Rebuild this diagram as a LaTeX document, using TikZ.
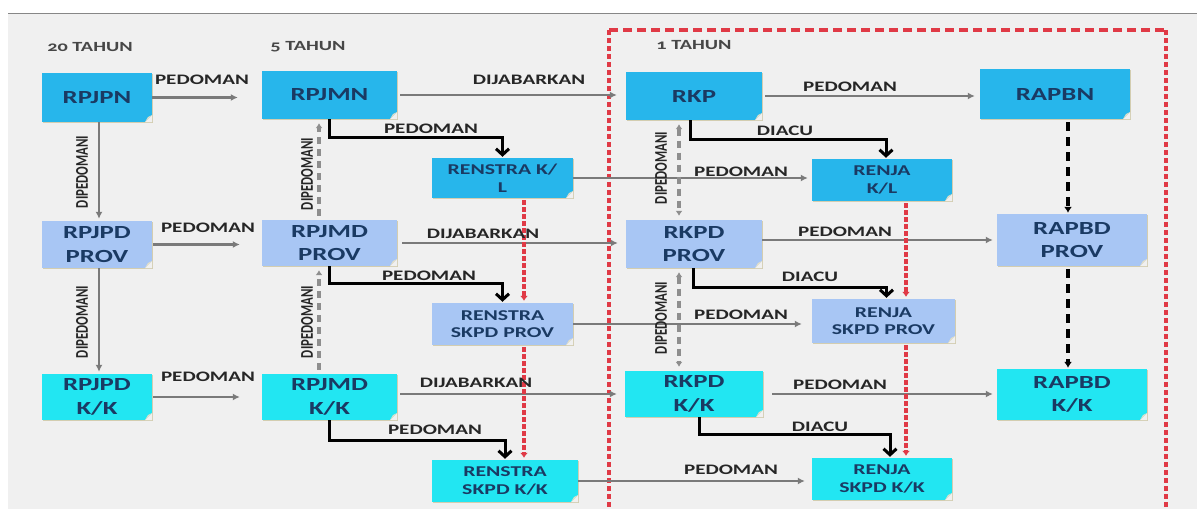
\documentclass[tikz,border=0pt]{standalone}
\usepackage{fontspec}
\usetikzlibrary{arrows.meta,calc,shadows}
\newfontfamily\wfont{Carlito}[FakeStretch=1.45]
\newfontfamily\hfont{Carlito}[FakeStretch=1.45,Numbers=OldStyle]
\newfontfamily\rfont{Carlito}
\definecolor{bgc}{HTML}{F0F0F0}
\definecolor{topc}{HTML}{27B6EB}
\definecolor{provc}{HTML}{A8C6F4}
\definecolor{kkc}{HTML}{22E6F2}
\definecolor{navy}{HTML}{1A3A63}
\definecolor{lblc}{HTML}{262626}
\definecolor{grayc}{HTML}{7A7A7A}
\definecolor{gdashc}{HTML}{8E8E8E}
\definecolor{redc}{HTML}{E03A46}
\definecolor{shc}{HTML}{CFC7A5}
\definecolor{foldc}{HTML}{E6E0C6}
\begin{document}
\begin{tikzpicture}[x=1pt,y=-1pt,
  box/.style={inner sep=0pt, align=center, text=navy,
    drop shadow={shadow xshift=1.3pt,shadow yshift=-1.3pt,fill=shc,opacity=.85},
    path picture={
      \fill[bgc] (path picture bounding box.south east) -- ++(-7pt,0pt) -- ++(7pt,7pt) -- cycle;
      \fill[foldc] ($(path picture bounding box.south east)+(-7pt,0pt)$) -- ++(7pt,7pt) -- ++(-4pt,-2pt) -- cycle;
    }},
  bigf/.style={font=\wfont\bfseries\fontsize{18.5}{23.5}\selectfont},
  smf/.style={font=\wfont\bfseries\fontsize{15}{17.5}\selectfont},
  topbox/.style={box,fill=topc},
  provbox/.style={box,fill=provc},
  kkbox/.style={box,fill=kkc},
  lbl/.style={inner sep=0pt, text=lblc, font=\wfont\bfseries\fontsize{14.5}{16}\selectfont},
  hdr/.style={inner sep=0pt, text=lblc!85, font=\hfont\bfseries\fontsize{14}{16}\selectfont},
  rot/.style={inner sep=0pt, rotate=90, text=lblc, font=\rfont\bfseries\fontsize{12.8}{14}\selectfont},
  garr/.style={draw=grayc, line width=2.2pt, -{Latex[length=7pt,width=7pt]}},
  gdash/.style={draw=gdashc, line width=3.3pt, dash pattern=on 7pt off 5pt, -{Latex[length=5pt,width=7pt]}, shorten <=4pt, shorten >=4pt},
  gdashb/.style={draw=gdashc, line width=3.3pt, dash pattern=on 7pt off 5pt, {Latex[length=5pt,width=7pt]}-{Latex[length=5pt,width=7pt]}, shorten <=4pt, shorten >=4pt},
  barr/.style={draw=black, line width=3pt, -{Straight Barb[length=6pt,width=13pt]}, shorten >=1pt},
  bdash/.style={draw=black, line width=3.5pt, dash pattern=on 9pt off 6pt, -{Latex[length=6pt,width=8pt]}, shorten <=3pt, shorten >=1pt},
  rarr/.style={draw=redc, line width=3.6pt, dash pattern=on 4.5pt off 2.5pt, -{Latex[length=5pt,width=8pt]}, shorten <=2pt, shorten >=2pt},
]
\useasboundingbox (0,0) rectangle (1197,509);
\fill[white] (0,0) rectangle (1197,509);
\fill[bgc] (8,14) rectangle (1197,509);
\draw[draw=grayc!90, line width=1.6pt] (8,13.5) -- (1197,13.5);

% red dashed frame
\draw[redc, line width=3.4pt, dash pattern=on 9pt off 5pt] (609,30) -- (1166,30);
\draw[redc, line width=3.4pt, dash pattern=on 5pt off 3pt] (609,30) -- (609,515);
\draw[redc, line width=3.4pt, dash pattern=on 5pt off 3pt] (1166,30) -- (1166,515);

% headers
\node[hdr] (h1) at (90,47) {20 TAHUN};
\node[hdr] (h2) at (308,47) {5 TAHUN};
\node[hdr] (h3) at (694,45) {1 TAHUN};

% boxes
\node[topbox,bigf,minimum width=110pt,minimum height=49pt] (A1) at (97,97.5) {RPJPN};
\node[topbox,bigf,minimum width=135pt,minimum height=48pt] (B1) at (329.5,95) {RPJMN};
\node[topbox,smf,minimum width=141pt,minimum height=40pt] (C1) at (502.5,178) {RENSTRA K/\\L};
\node[topbox,bigf,minimum width=136pt,minimum height=48pt] (D1) at (694,96) {RKP};
\node[topbox,smf,minimum width=140pt,minimum height=42pt] (E1) at (882,180) {RENJA\\K/L};
\node[topbox,bigf,minimum width=150pt,minimum height=50pt] (F1) at (1055,94) {RAPBN};

\node[provbox,bigf,minimum width=110pt,minimum height=47pt] (A2) at (97,244.5) {RPJPD\\PROV};
\node[provbox,bigf,minimum width=135pt,minimum height=46pt] (B2) at (329.5,243) {RPJMD\\PROV};
\node[provbox,smf,minimum width=141pt,minimum height=42pt] (C2) at (502.5,324) {RENSTRA\\SKPD PROV};
\node[provbox,bigf,minimum width=136pt,minimum height=48pt] (D2) at (694,244) {RKPD\\PROV};
\node[provbox,smf,minimum width=143pt,minimum height=44pt] (E2) at (883.5,321) {RENJA\\SKPD PROV};
\node[provbox,bigf,minimum width=150pt,minimum height=52pt] (F2) at (1072,240) {RAPBD\\PROV};

\node[kkbox,bigf,minimum width=110pt,minimum height=46pt] (A3) at (97,397) {RPJPD\\K/K};
\node[kkbox,bigf,minimum width=135pt,minimum height=46pt] (B3) at (329.5,397) {RPJMD\\K/K};
\node[kkbox,smf,minimum width=146pt,minimum height=42pt] (C3) at (505,481) {RENSTRA\\SKPD K/K};
\node[kkbox,bigf,minimum width=138pt,minimum height=46pt] (D3) at (694,394) {RKPD\\K/K};
\node[kkbox,smf,minimum width=140pt,minimum height=42pt] (E3) at (882,479) {RENJA\\SKPD K/K};
\node[kkbox,bigf,minimum width=150pt,minimum height=51pt] (F3) at (1072,394.5) {RAPBD\\K/K};

% horizontal gray arrows
\draw[garr, shorten >=24pt] (A1.east) -- (A1.east -| B1.west);
\draw[garr, shorten <=3pt, shorten >=9pt] (B1.east) -- (B1.east -| D1.west);
\draw[garr, shorten <=3pt, shorten >=5pt] (D1.east) -- (D1.east -| F1.west);
\draw[garr, shorten >=4pt] (C1.east) -- (C1.east -| E1.west);
\draw[garr, shorten <=1pt, shorten >=22pt] (A2.east) -- (A2.east -| B2.west);
\draw[garr, shorten <=5pt, shorten >=8pt] (B2.east) -- (B2.east -| D2.west);
\draw[garr, shorten >=4pt] (F2.west -| D2.east) -- (F2.west);
\draw[garr, shorten >=10pt] (C2.east) -- (C2.east -| E2.west);
\draw[garr, shorten <=1pt, shorten >=22pt] (A3.east) -- (A3.east -| B3.west);
\draw[garr, shorten <=3pt, shorten >=8pt] (D3.west -| B3.east) -- (D3.west);
\draw[garr, shorten <=9pt, shorten >=4pt] (D3.east) -- (D3.east -| F3.west);
\draw[garr, shorten >=7pt] (C3.east) -- (C3.east -| E3.west);

% vertical gray (left column)
\draw[garr, shorten >=2pt] ($(A1.south)+(2,0)$) -- ($(A2.north)+(2,0)$);
\draw[garr, shorten >=2pt] ($(A2.south)+(2,0)$) -- ($(A3.north)+(2,0)$);

% gray dashed
\draw[gdash] ($(B2.north)+(-10.5,0)$) -- ($(B1.south)+(-10.5,0)$);
\draw[gdash] ($(B3.north)+(-10.5,0)$) -- ($(B2.south)+(-10.5,0)$);
\draw[gdashb] ($(D1.south)+(-15,0)$) -- ($(D2.north)+(-15,0)$);
\draw[gdashb] ($(D2.south)+(-15,0)$) -- ($(D3.north)+(-15,0)$);

% black elbows
\draw[barr] (B1.south) -- ++(0,18) -| (C1.north);
\draw[barr] ($(D1.south)+(-4,0)$) -- ++(0,19) -| ($(E1.north)+(4,0)$);
\draw[barr] (B2.south) -- ++(0,17) -| (C2.north);
\draw[barr] ($(D2.south)+(-1,0)$) -- ++(0,19) -| ($(E2.north)+(3,0)$);
\draw[barr] (B3.south) -- ++(0,20) -| (C3.north);
\draw[barr] ($(D3.south)+(5,0)$) -- ++(0,17) -| ($(E3.north)+(8,0)$);

% red dashed arrows
\draw[rarr] ($(C1.south)+(21.5,0)$) -- ($(C2.north)+(21.5,0)$);
\draw[rarr] ($(C2.south)+(21.5,0)$) -- ($(C3.north)+(19,0)$);
\draw[rarr] ($(E1.south)+(24,0)$) -- ($(E2.north)+(22.5,0)$);
\draw[rarr] ($(E2.south)+(22.5,0)$) -- ($(E3.north)+(24,0)$);

% black dashed
\draw[bdash] ($(F1.south)+(13,0)$) -- ($(F2.north)+(-4,0)$);
\draw[bdash] ($(F2.south)+(-4,0)$) -- ($(F3.north)+(-4,0)$);

% labels
\node[lbl] (l1) at (202,80) {PEDOMAN};
\node[lbl] (l2) at (529,80) {DIJABARKAN};
\node[lbl] (l3) at (850,87) {PEDOMAN};
\node[lbl] (l4) at (431,129) {PEDOMAN};
\node[lbl] (l5) at (785,131) {DIACU};
\node[lbl] (l6) at (741,172) {PEDOMAN};
\node[lbl] (l7) at (208,228) {PEDOMAN};
\node[lbl] (l8) at (483,234) {DIJABARKAN};
\node[lbl] (l9) at (845,232) {PEDOMAN};
\node[lbl] (l10) at (429,276) {PEDOMAN};
\node[lbl] (l11) at (810,277) {DIACU};
\node[lbl] (l12) at (741,315) {PEDOMAN};
\node[lbl] (l13) at (208,377) {PEDOMAN};
\node[lbl] (l14) at (476,383) {DIJABARKAN};
\node[lbl] (l15) at (840,385) {PEDOMAN};
\node[lbl] (l16) at (435,430) {PEDOMAN};
\node[lbl] (l17) at (820,427) {DIACU};
\node[lbl] (l18) at (731,470) {PEDOMAN};

% rotated labels
\node[rot] (r1) at (82,172) {\scalebox{1}[1.4]{DIPEDOMANI}};
\node[rot] (r2) at (82,322) {\scalebox{1}[1.4]{DIPEDOMANI}};
\node[rot] (r3) at (307,174) {\scalebox{1}[1.4]{DIPEDOMANI}};
\node[rot] (r4) at (307,322) {\scalebox{1}[1.4]{DIPEDOMANI}};
\node[rot] (r5) at (661,168) {\scalebox{1}[1.4]{DIPEDOMANI}};
\node[rot] (r6) at (661,318) {\scalebox{1}[1.4]{DIPEDOMANI}};
\end{tikzpicture}
\end{document}
